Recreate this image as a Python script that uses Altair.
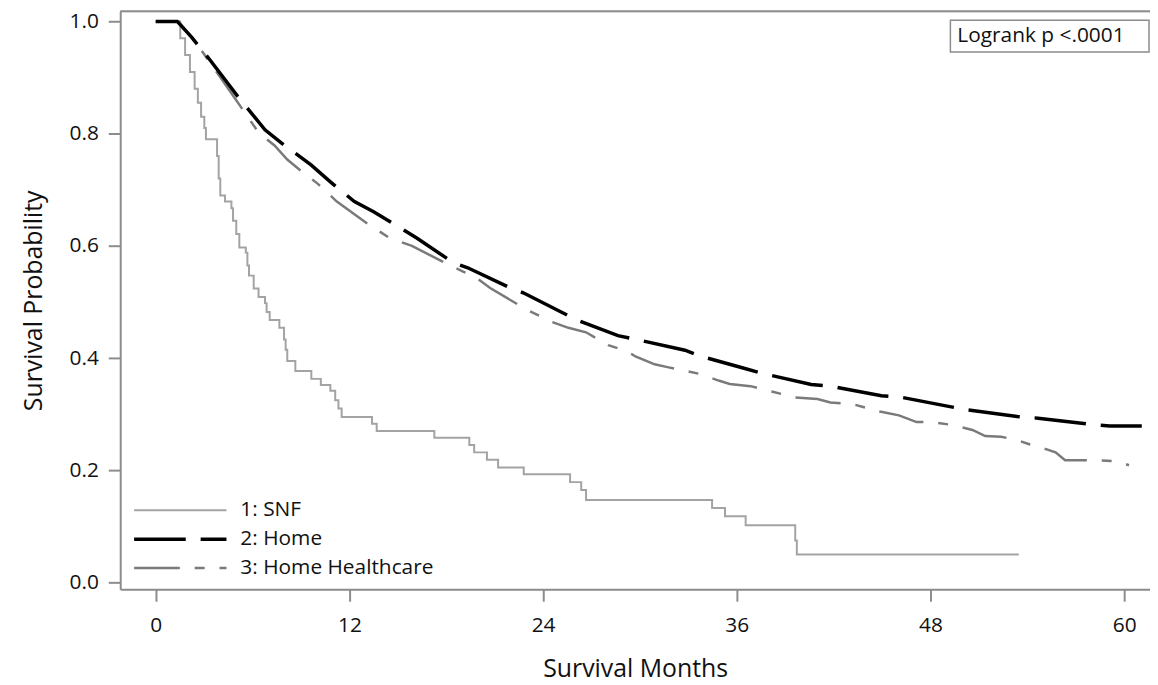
import altair as alt
import pandas as pd

groups = ["1: SNF", "2: Home", "3: Home Healthcare"]

snf_months = [0, 1.52, 1.82, 2.12, 2.41, 2.61, 2.81, 3.01, 3.11, 3.80, 3.90, 4.00, 4.29, 4.69,
              4.79, 4.99, 5.18, 5.58, 5.68, 5.78, 6.07, 6.37, 6.77, 6.87, 7.06, 7.66, 7.95,
              8.05, 8.15, 8.65, 9.64, 10.23, 10.82, 11.12, 11.32, 11.52, 13.40, 13.69, 17.26,
              19.43, 19.73, 20.52, 21.21, 22.80, 25.67, 26.36, 26.66, 34.47, 35.27, 36.55,
              39.62, 39.72, 53.47]
snf_surv = [1.0, 0.97, 0.94, 0.91, 0.88, 0.855, 0.83, 0.81, 0.79, 0.76, 0.72, 0.69, 0.679, 0.667,
            0.645, 0.621, 0.597, 0.588, 0.565, 0.547, 0.524, 0.509, 0.498, 0.482, 0.468, 0.454, 0.433,
            0.415, 0.395, 0.377, 0.363, 0.352, 0.342, 0.325, 0.31, 0.295, 0.283, 0.270, 0.258,
            0.245, 0.232, 0.219, 0.205, 0.193, 0.179, 0.165, 0.147, 0.133, 0.118, 0.102,
            0.075, 0.05, 0.05]

home_months = [0, 1.33, 2.22, 3.40, 5.09, 6.77, 7.76, 9.64, 10.82, 12.31, 13.50, 14.98, 16.17,
               18.44, 19.33, 21.91, 22.80, 25.27, 26.06, 28.64, 29.82, 32.79, 33.68, 36.45, 37.54,
               40.61, 41.80, 44.96, 46.05, 49.12, 50.21, 53.37, 54.66, 57.92, 59.11, 61.09]
home_surv = [1.0, 1.0, 0.972, 0.93, 0.866, 0.807, 0.784, 0.744, 0.714, 0.679, 0.661, 0.635, 0.614,
             0.570, 0.561, 0.526, 0.516, 0.480, 0.468, 0.440, 0.433, 0.414, 0.404, 0.382, 0.373,
             0.353, 0.350, 0.333, 0.331, 0.314, 0.308, 0.296, 0.293, 0.282, 0.279, 0.279]

hhc_months = [0, 1.42, 2.41, 3.11, 4.69, 6.37, 7.36, 8.15, 9.24, 10.03, 11.22, 13.10, 14.49, 15.87,
              18.25, 19.14, 19.83, 20.72, 23.00, 23.89, 24.48, 25.57, 26.66, 28.04, 29.23, 29.72,
              30.91, 31.70, 33.68, 34.87, 35.56, 36.85, 38.23, 39.62, 41.00, 41.80, 43.18, 44.86,
              46.05, 47.14, 48.03, 49.32, 50.60, 51.39, 52.38, 53.47, 54.16, 55.25, 55.75, 56.34,
              58.22, 59.61, 60.30]
hhc_surv = [1.0, 1.0, 0.965, 0.937, 0.872, 0.802, 0.779, 0.754, 0.728, 0.711, 0.679, 0.640, 0.614, 0.600,
            0.565, 0.553, 0.544, 0.525, 0.486, 0.474, 0.465, 0.454, 0.446, 0.423, 0.412, 0.403,
            0.389, 0.384, 0.372, 0.360, 0.354, 0.350, 0.340, 0.330, 0.327, 0.321, 0.318, 0.305,
            0.298, 0.286, 0.286, 0.281, 0.272, 0.261, 0.260, 0.253, 0.246, 0.237, 0.232, 0.218,
            0.218, 0.216, 0.209]

x_ticks = [0, 12, 24, 36, 48, 60]
y_ticks = [0.0, 0.2, 0.4, 0.6, 0.8, 1.0]
logrank_text = ["Logrank p <.0001"]

rows = []
for g, ms, ss in [(groups[0], snf_months, snf_surv),
                  (groups[1], home_months, home_surv),
                  (groups[2], hhc_months, hhc_surv)]:
    for m, s in zip(ms, ss):
        rows.append({"group": g, "month": m, "surv": s})
df = pd.DataFrame(rows)

FONT = "Open Sans"
AX = "#8c8c8c"
W, H = 1037, 582

x = alt.X("month:Q",
          scale=alt.Scale(domain=[-2.2, 61.6], nice=False, zero=False),
          axis=alt.Axis(title="Survival Months", values=x_ticks, grid=False,
                        domainColor=AX, domainWidth=2, tickColor=AX, tickWidth=2, tickSize=12,
                        labelPadding=14, labelFont=FONT, labelFontSize=21, labelColor="#111",
                        titleFont=FONT, titleFontSize=25, titleFontWeight="normal",
                        titleColor="#111", titlePadding=21))
y = alt.Y("surv:Q",
          scale=alt.Scale(domain=[-0.012, 1.018], nice=False, zero=False),
          axis=alt.Axis(title="Survival Probability", values=y_ticks, format=".1f", grid=False,
                        domainColor=AX, domainWidth=2, tickColor=AX, tickWidth=2, tickSize=12,
                        labelPadding=10, labelFont=FONT, labelFontSize=21, labelColor="#111",
                        titleFont=FONT, titleFontSize=25, titleFontWeight="normal",
                        titleColor="#111", titlePadding=23))

legend = alt.Legend(
    title=None, orient="none", legendX=12, legendY=488, symbolType="stroke",
    symbolSize=8649, clipHeight=29, rowPadding=0, labelOffset=12, padding=0,
    labelFont=FONT, labelFontSize=21, labelColor="#111", labelLimit=500)

color = alt.Color("group:N",
                  scale=alt.Scale(domain=groups, range=["#a3a3a3", "#000000", "#7a7a7a"]),
                  legend=legend)
dash = alt.StrokeDash("group:N",
                      scale=alt.Scale(domain=groups, range=[[1, 0], [52, 15], [46, 15, 10, 15]]),
                      legend=legend)
width = alt.StrokeWidth("group:N",
                        scale=alt.Scale(type="ordinal", domain=groups, range=[2, 3.5, 2.5]),
                        legend=legend)

base = alt.Chart(df)
snf = base.transform_filter(alt.datum.group == groups[0]).mark_line(
    interpolate="step-after").encode(x=x, y=y, color=color, strokeDash=dash, strokeWidth=width)
hhc = base.transform_filter(alt.datum.group == groups[2]).mark_line().encode(
    x=x, y=y, color=color, strokeDash=dash, strokeWidth=width)
home = base.transform_filter(alt.datum.group == groups[1]).mark_line().encode(
    x=x, y=y, color=color, strokeDash=dash, strokeWidth=width)

top_line = alt.Chart(pd.DataFrame({"a": [0]})).mark_rule(color=AX, strokeWidth=2).encode(
    x=alt.value(0), x2=alt.value(W), y=alt.value(0))

box = alt.Chart(pd.DataFrame({"t": logrank_text})).mark_rect(
    fill="white", stroke=AX, strokeWidth=1.5).encode(
    x=alt.value(836), x2=alt.value(W - 1), y=alt.value(9), y2=alt.value(41))
box_text = alt.Chart(pd.DataFrame({"t": logrank_text})).mark_text(
    align="left", baseline="middle", font=FONT, fontSize=21, color="#111").encode(
    x=alt.value(843), y=alt.value(25), text="t:N")

chart = alt.layer(snf, hhc, home, top_line, box, box_text).properties(
    width=W, height=H,
    padding={"left": 113, "top": 1, "right": 0, "bottom": 92},
    autosize=alt.AutoSizeParams(type="none"),
).configure_view(stroke=None).configure(background="white")

chart.save("out.html", embed_options={"renderer": "svg", "actions": False})
